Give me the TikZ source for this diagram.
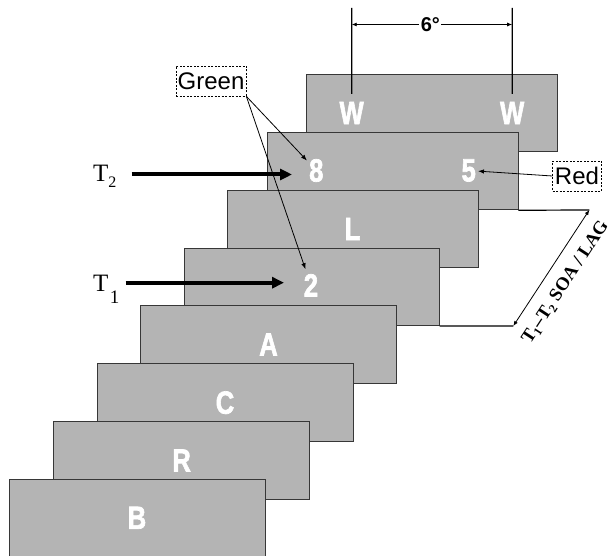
\documentclass[tikz,border=0pt]{standalone}
\usepackage{fontspec}
\setmainfont{Liberation Serif}
\newfontfamily\arialf{Liberation Sans}
\newfontfamily\stimf{Liberation Sans}[UprightFont={* Bold}, UprightFeatures={FakeBold=2.2}]
\usetikzlibrary{arrows.meta,calc}
\definecolor{framegray}{RGB}{180,180,180}
\definecolor{frameedge}{RGB}{55,55,55}
\newcommand{\stim}[1]{\scalebox{0.8}[1]{#1}}
\begin{document}
\begin{tikzpicture}[x=1pt,y=-1pt,
  frame/.style={draw=frameedge, fill=framegray, line width=0.9pt, minimum height=77.6pt, inner sep=0pt},
  stimtext/.style={text=white, font=\stimf\fontsize{32}{32}\selectfont, inner sep=0pt},
  colorbox/.style={draw, dash pattern=on 2pt off 1.5pt, line width=0.7pt, font=\arialf\fontsize{24}{24}\selectfont, inner sep=0pt, minimum height=30pt},
  thinarrow/.style={line width=0.8pt, -{Latex[length=6pt,width=4.5pt]}},
  bigarrow/.style={line width=4pt, -{Triangle[length=12pt,width=11pt]}},
  dimline/.style={line width=1.2pt},
  dimarrow/.style={line width=0.8pt, {Latex[length=5pt,width=4pt]}-{Latex[length=5pt,width=4pt]}},
  tlabel/.style={anchor=base west, inner sep=0pt, font=\fontsize{25}{25}\selectfont},
  soatext/.style={font=\bfseries\fontsize{18.5}{18.5}\selectfont, inner sep=0pt}
]
\useasboundingbox (0,0) rectangle (611,556);
\clip (0,0) rectangle (611,556);

% frames, back to front
\node[frame, minimum width=251.3pt] (f1) at (431.65,113) {};
\node[stimtext] (wL) at ($(f1.center)+(-80,0)$) {\stim{W}};
\node[stimtext] (wR) at ($(f1.center)+(80.5,0)$) {\stim{W}};

\node[frame, minimum width=251pt] (f2) at (392.5,171) {};
\node[stimtext] (d8) at ($(f2.center)+(-76.2,-0.5)$) {\stim{8}};
\node[stimtext] (d5) at ($(f2.center)+(76.2,-0.5)$) {\stim{5}};

\node[frame, minimum width=250.8pt] (f3) at (352.6,229) {};
\node[stimtext] (lL) at (f3.center) {\stim{L}};

\node[frame, minimum width=254.5pt] (f4) at (311.95,286.85) {};
\node[stimtext] (d2) at ($(f4.center)+(-1,-1.5)$) {\stim{2}};

\node[frame, minimum width=255.6pt] (f5) at (268.5,344.5) {};
\node[stimtext] (lA) at (f5.center) {\stim{A}};

\node[frame, minimum width=256pt] (f6) at (225,402.65) {};
\node[stimtext] (lC) at (f6.center) {\stim{C}};

\node[frame, minimum width=256.4pt] (f7) at (181.6,460.5) {};
\node[stimtext] (lR) at (f7.center) {\stim{R}};

\node[frame, minimum width=256pt] (f8) at (137,517.8) {};
\node[stimtext] (lB) at (f8.center) {\stim{B}};

% 6 degree dimension
\coordinate (vL) at (351.7,8);
\coordinate (vR) at (512.2,8);
\draw[dimline, shorten >=8pt] (vL) -- (wL);
\draw[dimline, shorten >=8pt] (vR) -- (wR);
\coordinate (dA) at (351.7,24.5);
\coordinate (dB) at (512.2,24.5);
\draw[dimarrow] (dA) -- node[pos=0.49, fill=white, inner sep=1.5pt, font=\arialf\bfseries\fontsize{20}{20}\selectfont] (six) {6°} (dB);

% colour labels
\node[colorbox, minimum width=70pt] (green) at (211,81) {Green};
\node[colorbox, minimum width=48.7pt] (red) at (577,176) {Red};
\draw[thinarrow, shorten >=3pt] (green.south east) -- (d8);
\draw[thinarrow, shorten >=5pt] (green.south east) -- (d2);
\draw[thinarrow, shorten >=2pt] (red.west) -- (d5);

% target labels
\node[tlabel] (t2) at (93,181.7) {T\raisebox{-6pt}{\fontsize{16}{16}\selectfont 2}};
\node[tlabel] (t1) at (93,291.7) {T\kern1.5pt\raisebox{-11.5pt}{\fontsize{19}{19}\selectfont 1}};
\coordinate (t2tip) at (292,174.5);
\coordinate (t1tip) at (284,282.7);
\draw[bigarrow, shorten <=15pt] (t2.east |- t2tip) -- (t2tip);
\draw[bigarrow, shorten <=6pt] (t1.east |- t1tip) -- (t1tip);

% SOA / LAG
\coordinate (soaT) at (589.3,210);
\coordinate (soaB) at (513.3,326);
\draw[dimline] (f2.south east) -- (soaT);
\draw[dimline] (f4.south east) -- (soaB);
\draw[dimarrow] (soaB) -- node[pos=0.47, sloped, below=12pt, soatext] (soa) {T\raisebox{-3pt}{\fontsize{12}{12}\selectfont 1}–T\raisebox{-3pt}{\fontsize{12}{12}\selectfont 2} SOA / LAG} (soaT);
\end{tikzpicture}
\end{document}
